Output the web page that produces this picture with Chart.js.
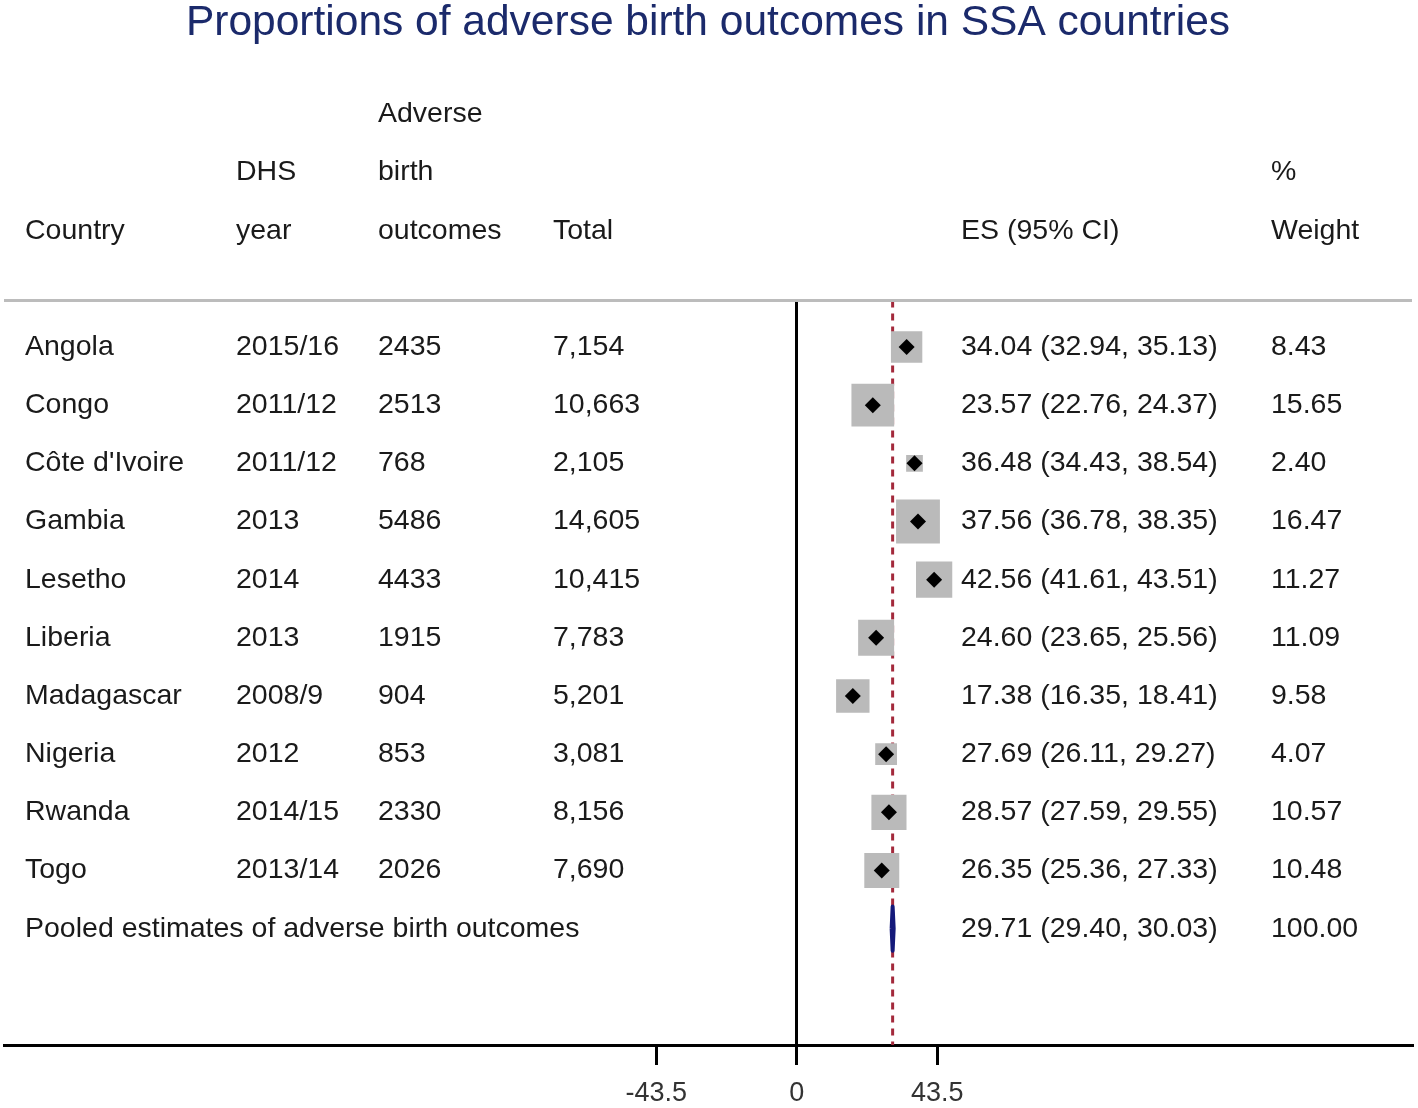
<!DOCTYPE html>
<html>
<head>
<meta charset="utf-8">
<title>Proportions of adverse birth outcomes in SSA countries</title>
<script src="https://cdn.jsdelivr.net/npm/chart.js@4/dist/chart.umd.min.js"></script>
<style>
    html, body { margin: 0; padding: 0; background: #fff; overflow: hidden; }
    #forestChart { display: block; }
</style>
</head>
<body>
<canvas id="forestChart" width="1418" height="1108"></canvas>
<script>
// study rows
const countries = ['Angola', 'Congo', "Côte d'Ivoire", 'Gambia', 'Lesetho', 'Liberia', 'Madagascar', 'Nigeria', 'Rwanda', 'Togo'];
const dhsYears = ['2015/16', '2011/12', '2011/12', '2013', '2014', '2013', '2008/9', '2012', '2014/15', '2013/14'];
const adverseCounts = [2435, 2513, 768, 5486, 4433, 1915, 904, 853, 2330, 2026];
const totals = [7154, 10663, 2105, 14605, 10415, 7783, 5201, 3081, 8156, 7690];
const esValues = [34.04, 23.57, 36.48, 37.56, 42.56, 24.60, 17.38, 27.69, 28.57, 26.35];
const ciLow = [32.94, 22.76, 34.43, 36.78, 41.61, 23.65, 16.35, 26.11, 27.59, 25.36];
const ciHigh = [35.13, 24.37, 38.54, 38.35, 43.51, 25.56, 18.41, 29.27, 29.55, 27.33];
const weights = [8.43, 15.65, 2.40, 16.47, 11.27, 11.09, 9.58, 4.07, 10.57, 10.48];

// pooled estimate
const pooledLabel = 'Pooled estimates of adverse birth outcomes';
const pooledES = 29.71;
const pooledLow = 29.40;
const pooledHigh = 30.03;
const pooledWeight = 100.00;

const xTicks = [-43.5, 0, 43.5];

// layout (pixel x of each text column)
const COL = { country: 25, year: 236, adverse: 378, total: 553, es: 961, weight: 1271 };
const FONT_FAMILY = '"Liberation Sans", Arial, sans-serif';
const TEXT_FONT = '28.5px ' + FONT_FAMILY;
const TEXT_COLOR = '#1a1a1a';
const pooledRow = countries.length;

const fmt2 = v => v.toFixed(2);

const tablePlugin = {
    id: 'forestTable',
    afterDraw(chart) {
        const { ctx, chartArea } = chart;
        const y = chart.scales.y;
        ctx.save();

        // grey separator under the header
        ctx.strokeStyle = '#bcbcbc';
        ctx.lineWidth = 3;
        ctx.beginPath();
        ctx.moveTo(chartArea.left, chartArea.top);
        ctx.lineTo(chartArea.right, chartArea.top);
        ctx.stroke();

        ctx.font = TEXT_FONT;
        ctx.fillStyle = TEXT_COLOR;
        ctx.textBaseline = 'middle';
        ctx.textAlign = 'left';
        const put = (txt, x, row) => ctx.fillText(txt, x, y.getPixelForValue(row));

        // header
        put('Adverse', COL.adverse, -4);
        put('DHS', COL.year, -3);
        put('birth', COL.adverse, -3);
        put('%', COL.weight, -3);
        put('Country', COL.country, -2);
        put('year', COL.year, -2);
        put('outcomes', COL.adverse, -2);
        put('Total', COL.total, -2);
        put('ES (95% CI)', COL.es, -2);
        put('Weight', COL.weight, -2);

        countries.forEach((c, i) => {
            put(c, COL.country, i);
            put(dhsYears[i], COL.year, i);
            put(String(adverseCounts[i]), COL.adverse, i);
            put(totals[i].toLocaleString('en-US'), COL.total, i);
            put(`${fmt2(esValues[i])} (${fmt2(ciLow[i])}, ${fmt2(ciHigh[i])})`, COL.es, i);
            put(fmt2(weights[i]), COL.weight, i);
        });

        put(pooledLabel, COL.country, pooledRow);
        put(`${fmt2(pooledES)} (${fmt2(pooledLow)}, ${fmt2(pooledHigh)})`, COL.es, pooledRow);
        put(fmt2(pooledWeight), COL.weight, pooledRow);

        ctx.restore();
    }
};

const Y_MIN = -0.8;
const Y_MAX = 12;

const ciData = [];
esValues.forEach((_, i) => {
    ciData.push({ x: ciLow[i], y: i }, { x: ciHigh[i], y: i }, { x: ciHigh[i], y: null });
});

const ctx = document.getElementById('forestChart').getContext('2d');
new Chart(ctx, {
    type: 'scatter',
    data: {
        datasets: [{
            // overall effect reference line
            type: 'line',
            data: [{ x: pooledES, y: Y_MIN }, { x: pooledES, y: Y_MAX }],
            borderColor: '#a3293b',
            borderWidth: 3,
            borderDash: [7, 6],
            pointRadius: 0,
            order: 5
        }, {
            // weight boxes
            data: esValues.map((v, i) => ({ x: v, y: i })),
            pointStyle: 'rect',
            backgroundColor: '#bababa',
            borderWidth: 0,
            pointRadius: c => 10.8 * Math.sqrt(weights[c.dataIndex]) / Math.SQRT2,
            order: 4
        }, {
            // confidence intervals
            type: 'line',
            data: ciData,
            borderColor: '#000',
            borderWidth: 2,
            pointRadius: 0,
            spanGaps: false,
            order: 3
        }, {
            // point estimates
            data: esValues.map((v, i) => ({ x: v, y: i })),
            pointStyle: 'rectRot',
            backgroundColor: '#000',
            borderWidth: 0,
            pointRadius: 8,
            order: 2
        }, {
            // pooled diamond
            type: 'line',
            data: [
                { x: pooledLow, y: pooledRow },
                { x: pooledES, y: pooledRow - 0.38 },
                { x: pooledHigh, y: pooledRow },
                { x: pooledES, y: pooledRow + 0.38 },
                { x: pooledLow, y: pooledRow }
            ],
            borderColor: '#14197a',
            backgroundColor: '#14197a',
            borderWidth: 4,
            borderJoinStyle: 'round',
            fill: 'shape',
            pointRadius: 0,
            tension: 0,
            order: 1
        }]
    },
    options: {
        responsive: false,
        animation: false,
        events: [],
        layout: {
            autoPadding: false,
            padding: { left: 4, right: 6, top: 0, bottom: 0 }
        },
        plugins: {
            legend: { display: false },
            tooltip: { enabled: false },
            title: {
                display: true,
                text: 'Proportions of adverse birth outcomes in SSA countries',
                color: '#1b2a6b',
                font: { family: FONT_FAMILY, size: 42.5, weight: 'normal', lineHeight: 1 },
                padding: { top: 2, bottom: 256 }
            }
        },
        scales: {
            x: {
                type: 'linear',
                min: -245.4,
                max: 190.5,
                afterBuildTicks: scale => {
                    scale.ticks = xTicks.map(v => ({ value: v }));
                },
                afterFit: scale => {
                    scale.height = 63;
                },
                grid: {
                    display: true,
                    drawOnChartArea: false,
                    drawTicks: true,
                    tickLength: 20,
                    color: '#000',
                    lineWidth: 3
                },
                border: { display: true, color: '#000', width: 3 },
                ticks: {
                    padding: 12,
                    color: '#333',
                    font: { family: FONT_FAMILY, size: 27 },
                    callback: v => String(v)
                }
            },
            y: {
                type: 'linear',
                reverse: true,
                min: Y_MIN,
                max: Y_MAX,
                position: { x: 0 },
                grid: { display: false },
                border: { display: true, color: '#000', width: 3 },
                ticks: { display: false }
            }
        }
    },
    plugins: [tablePlugin]
});
</script>
</body>
</html>
